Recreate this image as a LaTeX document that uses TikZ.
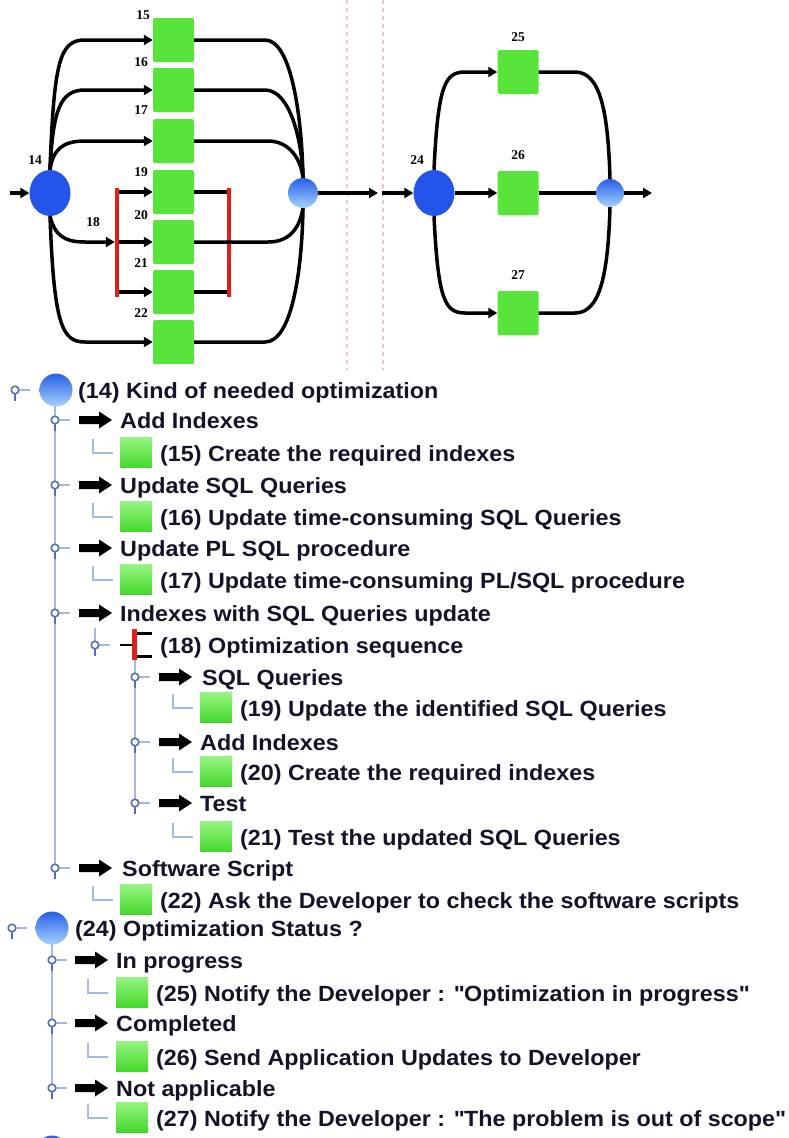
\documentclass[tikz,border=0pt]{standalone}
\usepackage{fontspec}
\setmainfont{Liberation Sans}[FakeStretch=1.06]
\newfontfamily\labfont{Liberation Serif}
\usetikzlibrary{arrows.meta,shapes.geometric}
\definecolor{gboxc}{RGB}{88,228,58}
\definecolor{gtop}{RGB}{150,245,130}
\definecolor{gbot}{RGB}{70,215,45}
\definecolor{bcirc}{RGB}{35,85,235}
\definecolor{btop}{RGB}{40,95,230}
\definecolor{bbot}{RGB}{165,210,255}
\definecolor{tline}{RGB}{165,185,225}
\definecolor{thandle}{RGB}{85,112,182}
\definecolor{rbar}{RGB}{225,30,30}
\definecolor{dashc}{RGB}{228,200,200}
\definecolor{txtc}{RGB}{20,20,40}
\newcommand\dq{\XeTeXglyph\XeTeXcharglyph"22\relax}
\newcommand\THdl[2]{%
  \draw[tline, line width=1.3pt] (#1+4,#2) -- (#1+15,#2);
  \draw[thandle, line width=2.8pt] (#1,#2+3.5) -- (#1,#2+11);
  \draw[thandle, line width=1.6pt, fill=white] (#1,#2) circle[radius=3.8];}
\newcommand\TArr[2]{\fill[black] (#1,#2-4) -- ++(20,0) -- ++(0,-4.5) -- (#1+33,#2) -- (#1+20,#2+8.5) -- ++(0,-4.5) -- (#1,#2+4) -- cycle;}
\newcommand\TBox[2]{\shade[top color=gtop, bottom color=gbot] (#1,#2-16) rectangle (#1+32,#2+14);}
\newcommand\TCor[2]{\draw[tline, line width=1.3pt] (#1,#2-14) -- (#1,#2) -- (#1+20,#2);}
\newcommand\TTxt[4]{\node[txt] (#1) at (#2,#3+8) {#4};}
\begin{document}
\begin{tikzpicture}[x=1pt,y=-1pt,
  flow/.style={line width=3.5pt, black},
  arr/.style={flow, -{Triangle[length=9pt,width=10pt]}},
  gb/.style={rectangle, fill=gboxc, minimum width=41pt, minimum height=44pt, inner sep=0pt, rounded corners=1.5pt},
  rb/.style={rectangle, fill=rbar, minimum width=4pt, minimum height=109pt, inner sep=0pt},
  bigc/.style={ellipse, fill=bcirc, minimum width=41pt, minimum height=46pt, inner sep=0pt},
  mc/.style={circle, top color=btop, bottom color=bbot, minimum size=30pt, inner sep=0pt},
  sph/.style={circle, top color=btop, bottom color=bbot, minimum size=33pt, inner sep=0pt},
  lab/.style={font=\labfont\bfseries\fontsize{13.5}{13.5}\selectfont, inner sep=0pt},
  txt/.style={anchor=base west, inner sep=0pt, text=txtc, font=\bfseries\fontsize{22}{24}\selectfont}]
\fill[white] (0,0) rectangle (788,1138);
\useasboundingbox (0,0) rectangle (788,1138);
\clip (0,0) rectangle (788,1138);
% separators
\draw[dashc, line width=1.5pt, dash pattern=on 4pt off 4pt] (347,0) -- (347,370);
\draw[dashc, line width=1.5pt, dash pattern=on 4pt off 4pt] (383,0) -- (383,370);
% ---- left process ----
\node[bigc] (c14) at (50,193) {};
\node[gb] (b15) at (173.5,40) {};
\node[gb] (b16) at (173.5,90) {};
\node[gb] (b17) at (173.5,141) {};
\node[gb] (b19) at (173.5,192) {};
\node[gb] (b20) at (173.5,242) {};
\node[gb] (b21) at (173.5,292) {};
\node[gb] (b22) at (173.5,342) {};
\node[rb] (r1) at (117,242.5) {};
\node[rb] (r2) at (229,242.5) {};
\node[mc] (m1) at (303,193) {};
\node[lab] (l14) at (35,160) {14};
\node[lab] (l15) at (143,15) {15};
\node[lab] (l16) at (141,62) {16};
\node[lab] (l17) at (141,110) {17};
\node[lab] (l19) at (141,172) {19};
\node[lab] (l20) at (141,215) {20};
\node[lab] (l21) at (141,263) {21};
\node[lab] (l22) at (141,313) {22};
\node[lab] (l18) at (93,222) {18};
\coordinate (in1) at (10,193);
\draw[arr] (in1) -- (c14.west);
\draw[arr] (c14.north) .. controls (54,60) and (60,40) .. (85,40) -- (b15.west);
\draw[arr] (c14.north) .. controls (53,110) and (60,90) .. (85,90) -- (b16.west);
\draw[arr] (c14.north) .. controls (53,150) and (62,141) .. (85,141) -- (b17.west);
\draw[arr] (c14.south) .. controls (54,325) and (62,342) .. (85,342) -- (b22.west);
\draw[arr] (c14.south) .. controls (55,236) and (65,242) .. (85,242) -- (r1.west |- b20);
\draw[arr] (r1.east |- b19) -- (b19.west);
\draw[arr] (r1.east |- b20) -- (b20.west);
\draw[arr] (r1.east |- b21) -- (b21.west);
\draw[flow] (b19.east) -- (r2.west |- b19);
\draw[flow] (b21.east) -- (r2.west |- b21);
\draw[flow] (b20.east) -- (268,242) .. controls (292,242) and (300,225) .. (m1.south);
\draw[flow] (b15.east) -- (265,40) .. controls (292,40) and (302,120) .. (m1.north);
\draw[flow] (b16.east) -- (265,90) .. controls (290,90) and (302,140) .. (m1.north);
\draw[flow] (b17.east) -- (268,141) .. controls (290,141) and (301,160) .. (m1.north);
\draw[flow] (b22.east) -- (265,342) .. controls (292,342) and (302,270) .. (m1.south);
\coordinate (o1) at (378,193);
\coordinate (o2) at (382,193);
\draw[arr] (m1.east) -- (o1);
% ---- right process ----
\node[bigc] (c24) at (434,193) {};
\draw[arr] (o2) -- (c24.west);
\node[gb] (b25) at (518,72) {};
\node[gb] (b26) at (518,193) {};
\node[gb] (b27) at (518,313) {};
\node[mc, minimum size=28pt] (m2) at (610,193) {};
\node[lab] (l24) at (417,160) {24};
\node[lab] (l25) at (518,37) {25};
\node[lab] (l26) at (518,155) {26};
\node[lab] (l27) at (518,275) {27};
\draw[arr] (c24.north) .. controls (438,85) and (445,72) .. (465,72) -- (b25.west);
\draw[arr] (c24.east) -- (b26.west);
\draw[arr] (c24.south) .. controls (438,300) and (445,313) .. (465,313) -- (b27.west);
\draw[flow] (b25.east) -- (575,72) .. controls (600,72) and (608,110) .. (m2.north);
\draw[flow] (b26.east) -- (m2.west);
\draw[flow] (b27.east) -- (575,313) .. controls (600,313) and (608,275) .. (m2.south);
\coordinate (o3) at (652,193);
\draw[arr] (m2.east) -- (o3);
% ---- tree 14 ----
\draw[tline, line width=1.5pt] (55,405) -- (55,868);
\THdl{15}{390}
\node[sph] (s14) at (56,390) {};
\TTxt{t14}{78}{390}{(14) Kind of needed optimization}
\THdl{55}{420}\TArr{79}{420}
\TTxt{t14a}{120}{420}{Add Indexes}
\TCor{93}{453}\TBox{120}{453}
\TTxt{t15}{160}{453}{(15) Create the required indexes}
\THdl{55}{485}\TArr{79}{485}
\TTxt{t14b}{120}{485}{Update SQL Queries}
\TCor{93}{517}\TBox{120}{517}
\TTxt{t16}{160}{517}{(16) Update time-consuming SQL Queries}
\THdl{55}{548}\TArr{79}{548}
\TTxt{t14c}{120}{548}{Update PL SQL procedure}
\TCor{93}{580}\TBox{120}{580}
\TTxt{t17}{160}{580}{(17) Update time-consuming PL/SQL procedure}
\THdl{55}{613}\TArr{79}{613}
\TTxt{t14d}{120}{613}{Indexes with SQL Queries update}
\draw[tline, line width=1.3pt] (95,628) -- (95,641);
\THdl{95}{645}
\draw[black, line width=2.5pt] (120,645) -- (133,645);
\fill[rbar] (132,629) rectangle (137,660);
\draw[black, line width=3pt] (137,633) -- (152,633);
\draw[black, line width=3pt] (137,656) -- (152,656);
\TTxt{t18}{160}{645}{(18) Optimization sequence}
\draw[tline, line width=1.5pt] (135,660) -- (135,803);
\THdl{135}{677}\TArr{159}{677}
\TTxt{t18a}{202}{677}{SQL Queries}
\TCor{173}{708}\TBox{200}{708}
\TTxt{t19}{240}{708}{(19) Update the identified SQL Queries}
\THdl{135}{742}\TArr{159}{742}
\TTxt{t18b}{200}{742}{Add Indexes}
\TCor{173}{772}\TBox{200}{772}
\TTxt{t20}{240}{772}{(20) Create the required indexes}
\THdl{135}{803}\TArr{159}{803}
\TTxt{t18c}{200}{803}{Test}
\TCor{173}{837}\TBox{200}{837}
\TTxt{t21}{240}{837}{(21) Test the updated SQL Queries}
\THdl{55}{868}\TArr{79}{868}
\TTxt{t14e}{122}{868}{Software Script}
\TCor{93}{900}\TBox{120}{900}
\TTxt{t22}{160}{900}{(22) Ask the Developer to check the software scripts}
% ---- tree 24 ----
\draw[tline, line width=1.5pt] (52,943) -- (52,1088);
\THdl{12}{928}
\node[sph] (s24) at (52,928) {};
\TTxt{t24}{75}{928}{(24) Optimization Status ?}
\THdl{52}{960}\TArr{75}{960}
\TTxt{t24a}{116}{960}{In progress}
\TCor{88}{993}\TBox{116}{993}
\TTxt{t25}{156}{993}{(25) Notify the Developer : \dq Optimization in progress\dq}
\THdl{52}{1023}\TArr{75}{1023}
\TTxt{t24b}{116}{1023}{Completed}
\TCor{88}{1057}\TBox{116}{1057}
\TTxt{t26}{156}{1057}{(26) Send Application Updates to Developer}
\THdl{52}{1088}\TArr{75}{1088}
\TTxt{t24c}{116}{1088}{Not applicable}
\TCor{88}{1118}\TBox{116}{1118}
\TTxt{t27}{156}{1118}{(27) Notify the Developer : \dq The problem is out of scope\dq}
\node[sph] (s28) at (52,1152) {};
\end{tikzpicture}
\end{document}
